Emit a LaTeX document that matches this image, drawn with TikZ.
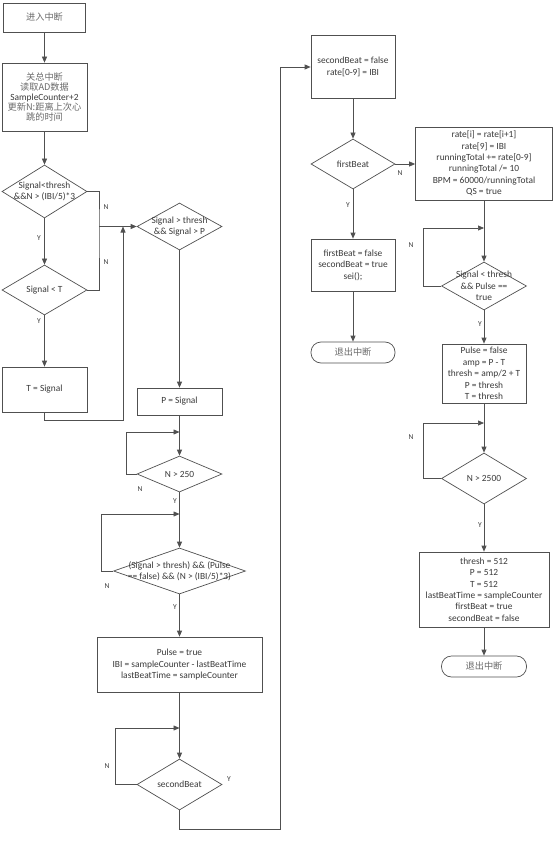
\documentclass[tikz,border=0pt]{standalone}
\usepackage{fontspec}
\setmainfont{Carlito}
\newfontfamily\cjk{Noto Sans CJK SC}
\usetikzlibrary{shapes.geometric,arrows.meta,shadows}
\definecolor{linec}{HTML}{505050}
\definecolor{txtc}{HTML}{3A3A3A}
\definecolor{cjkc}{HTML}{6A6A6A}
\newcommand{\cjt}[1]{{\cjk\fontsize{9.2}{12.4}\selectfont\color{cjkc}#1}}
\begin{document}
\begin{tikzpicture}[x=1pt,y=-1pt,
  every node/.style={text=txtc},
  txt/.style={font=\fontsize{9.4}{11.4}\selectfont, align=center},
  box/.style={draw=linec, line width=0.7pt, fill=white, txt, inner sep=1pt,
    drop shadow={shadow xshift=0.8pt, shadow yshift=-0.8pt, opacity=0.25}},
  dia/.style={shape=diamond, draw=linec, line width=0.7pt, fill=white, inner sep=0pt},
  term/.style={draw=linec, line width=0.7pt, fill=white, rounded corners=10pt, inner sep=0pt},
  arr/.style={draw=linec, line width=0.7pt, -{Triangle[length=6pt,width=5pt]}},
  ln/.style={draw=linec, line width=0.7pt},
  yn/.style={font=\fontsize{7.5}{8}\selectfont, text=txtc},
  cj/.style={font=\cjk\fontsize{9.2}{12.4}\selectfont, text=cjkc, align=center}
]
\useasboundingbox (0,0) rectangle (556,842);

% ---------- left column ----------
\node[box, cj, minimum width=82pt, minimum height=29pt] (s) at (44.5,17.5) {进入中断};
\node[box, minimum width=85pt, minimum height=68pt] (b1) at (44.5,97)
  {\cjt{关总中断}\\[-1.5pt]\cjt{读取AD数据}\\[-1pt]SampleCounter+2\\[-1pt]\cjt{更新N:距离上次心}\\[-1.5pt]\cjt{跳的时间}};
\node[dia, minimum width=85pt, minimum height=53pt,
  label={[txt]center:Signal<thresh\\\&\&N > (IBI/5)*3}] (d1) at (44.5,191.5) {};
\node[dia, minimum width=85pt, minimum height=50pt,
  label={[txt]center:Signal < T}] (d2) at (44.5,290) {};
\node[box, minimum width=85pt, minimum height=45pt] (t1) at (44.5,389.5) {T = Signal};

% ---------- second column ----------
\node[dia, minimum width=85pt, minimum height=47pt,
  label={[txt]center:Signal > thresh\\\&\& Signal > P}] (d3) at (179.5,226.5) {};
\node[box, minimum width=85pt, minimum height=27pt] (p1) at (179.5,401.5) {P = Signal};
\node[dia, minimum width=85pt, minimum height=36pt,
  label={[txt]center:N > 250}] (d4) at (179.5,474) {};
\node[dia, minimum width=132pt, minimum height=46pt,
  label={[txt]center:(Signal > thresh) \&\& (Pulse\\== false) \&\& (N > (IBI/5)*3)}] (d5) at (179.5,571) {};
\node[box, minimum width=165pt, minimum height=55pt] (b2) at (179.5,664.5)
  {Pulse = true\\IBI = sampleCounter - lastBeatTime\\lastBeatTime = sampleCounter};
\node[dia, minimum width=85pt, minimum height=51pt,
  label={[txt]center:secondBeat}] (d6) at (179.5,784.5) {};

% ---------- third column ----------
\node[box, minimum width=84pt, minimum height=63pt] (b3) at (353,67)
  {secondBeat = false\\rate[0-9] = IBI};
\node[dia, minimum width=84pt, minimum height=50pt,
  label={[txt]center:firstBeat}] (d7) at (353,164) {};
\node[box, minimum width=84pt, minimum height=52pt] (b4) at (353,265)
  {firstBeat = false\\secondBeat = true\\sei();};
\node[term, cj, minimum width=84pt, minimum height=21pt] (e1) at (353,352.5) {退出中断};

% ---------- right column ----------
\node[box, minimum width=137pt, minimum height=73pt] (b5) at (484,163.5)
  {rate[i] = rate[i+1]\\rate[9] = IBI\\runningTotal += rate[0-9]\\runningTotal /= 10\\BPM = 60000/runningTotal\\QS = true};
\node[dia, minimum width=85pt, minimum height=48pt,
  label={[txt]center:Signal < thresh\\\&\& Pulse ==\\true}] (d8) at (484,286) {};
\node[box, minimum width=84pt, minimum height=59pt] (b6) at (484,373.5)
  {Pulse = false\\amp = P - T\\thresh = amp/2 + T\\P = thresh\\T = thresh};
\node[dia, minimum width=85pt, minimum height=51pt,
  label={[txt]center:N > 2500}] (d9) at (484,478.5) {};
\node[box, minimum width=130pt, minimum height=75pt] (b7) at (484,589.5)
  {thresh = 512\\P = 512\\T = 512\\lastBeatTime = sampleCounter\\firstBeat = true\\secondBeat = false};
\node[term, cj, minimum width=85pt, minimum height=21pt] (e2) at (484,666.5) {退出中断};

% ---------- helper coordinates ----------
\coordinate (j1) at (99,226.5);
\coordinate (j2) at (123,226.5);
\coordinate (j2b) at (123,420);
\coordinate (l1a) at (126,432);
\coordinate (l1) at (179.5,432);
\coordinate (l2a) at (101,514);
\coordinate (l2) at (179.5,514);
\coordinate (l3a) at (115,728);
\coordinate (l3) at (179.5,728);
\coordinate (k1) at (280,829);
\coordinate (r1a) at (423,228);
\coordinate (r1) at (484,228);
\coordinate (r2a) at (423,423);
\coordinate (r2) at (484,423);

% ---------- connectors ----------
\draw[arr] (s) -- (b1);
\draw[arr] (b1) -- (d1);
\draw[arr] (d1) -- (d2);
\draw[arr] (d2) -- (t1);
\draw[ln] (d1.east) -| (j1) |- (d2.east);
\draw[arr] (j1) -- (d3.west);
\draw[arr] (t1.south) |- (j2b) -- (j2);
\draw[arr] (d3) -- (p1);
\draw[arr] (p1) -- (d4);
\draw[arr] (d4.west) -| (l1a) -- (l1);
\draw[arr] (d4) -- (d5);
\draw[arr] (d5.west) -| (l2a) -- (l2);
\draw[arr] (d5) -- (b2);
\draw[arr] (b2) -- (d6);
\draw[arr] (d6.west) -| (l3a) -- (l3);
\draw[arr] (d6.south) |- (k1) |- (b3.west);
\draw[arr] (b3) -- (d7);
\draw[arr] (d7) -- (b4);
\draw[arr] (b4) -- (e1);
\draw[arr] (d7.east) -- (d7.east -| b5.west);
\draw[arr] (b5) -- (d8);
\draw[arr] (d8.west) -| (r1a) -- (r1);
\draw[arr] (d8) -- (b6);
\draw[arr] (b6) -- (d9);
\draw[arr] (d9.west) -| (r2a) -- (r2);
\draw[arr] (d9) -- (b7);
\draw[arr] (b7) -- (e2);

% ---------- Y / N labels ----------
\node[yn] (y1) at (39,238) {Y};
\node[yn] (y2) at (39,321) {Y};
\node[yn] (n1) at (106,207) {N};
\node[yn] (n2) at (106,262) {N};
\node[yn] (n3) at (140,489) {N};
\node[yn] (y3) at (175,501) {Y};
\node[yn] (n4) at (107,586) {N};
\node[yn] (y4) at (175,607) {Y};
\node[yn] (n5) at (107,766) {N};
\node[yn] (y5) at (229,779) {Y};
\node[yn] (n6) at (400,173) {N};
\node[yn] (y6) at (348,205) {Y};
\node[yn] (n7) at (411,245) {N};
\node[yn] (y7) at (480,324) {Y};
\node[yn] (n8) at (411,437) {N};
\node[yn] (y8) at (480,525) {Y};
\end{tikzpicture}
\end{document}
